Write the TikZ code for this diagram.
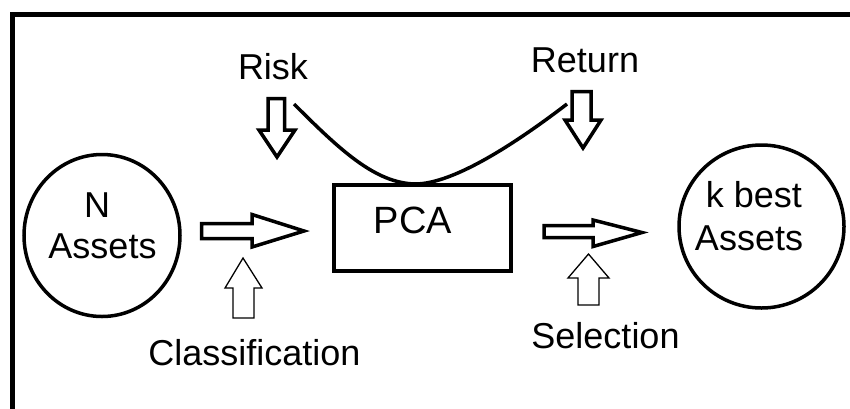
\documentclass[tikz,border=0pt]{standalone}
\usepackage{fontspec}
\setmainfont{Liberation Sans}
\usetikzlibrary{shapes.geometric}
\begin{document}
\begin{tikzpicture}[x=1pt,y=-1pt,
  lbl/.style={font=\fontsize{36}{40}\selectfont, inner sep=0pt, anchor=base},
  heavy/.style={line width=3.5pt, line join=miter},
  light/.style={line width=1.3pt, line join=miter},
  blob/.style={ellipse, draw, line width=3.5pt, inner sep=0pt},
  box/.style={rectangle, draw, line width=3.8pt, inner sep=0pt}]
\useasboundingbox (0,0) rectangle (850,408);
\fill[white] (0,0) rectangle (850,408);
% frame (cut off at right and bottom)
\draw[line width=5pt] (12,412) -- (12,14) -- (854,14);
% main nodes
\node[blob, minimum width=156pt, minimum height=162pt] (src) at (102,235.5) {};
\node[blob, minimum width=165pt, minimum height=163pt] (dst) at (761.5,226.5) {};
\node[box, minimum width=177pt, minimum height=86pt] (pca) at (422.5,228) {};
% labels
\node[lbl] (n1) at (97,217) {N};
\node[lbl] (n2) at (102.5,258) {Assets};
\node[lbl] (k1) at (754,207) {k best};
\node[lbl] (k2) at (749,250) {Assets};
\node[lbl, font=\fontsize{38}{42}\selectfont] (pcat) at (413,233) {PCA};
\node[lbl] (risk) at (273,79) {Risk};
\node[lbl] (ret) at (585,72) {Return};
\node[lbl] (cls) at (254.5,365) {Classification};
\node[lbl] (sel) at (605.5,348) {Selection};
% block arrows
\draw[heavy] (201.5,223.5) -- (252,223.5) -- (252,214.5) -- (304,231) -- (252,247) -- (252,238.5) -- (201.5,238.5) -- cycle;
\draw[heavy] (544,225.5) -- (593,225.5) -- (593,220) -- (642,232.5) -- (593,246.5) -- (593,237.5) -- (544,237.5) -- cycle;
\draw[heavy] (268,98.5) -- (284.5,98.5) -- (284.5,130) -- (295,130) -- (277,157) -- (259,130) -- (268,130) -- cycle;
\draw[heavy] (572,91.5) -- (591,91.5) -- (591,120) -- (601,120) -- (583,148) -- (565,120) -- (572,120) -- cycle;
\draw[light] (243,258) -- (262,288) -- (254,288) -- (254,318) -- (233,318) -- (233,288) -- (225,288) -- cycle;
\draw[light] (588.5,254) -- (609,278) -- (599,278) -- (599,305) -- (578,305) -- (578,278) -- (568,278) -- cycle;
% curve touching PCA box
\coordinate (c1) at (294,104);
\coordinate (c2) at (567,104);
\coordinate (cb) at (415,184);
\draw[line width=3.5pt] (c1) .. controls (340,150) and (375,183) .. (cb) .. controls (455,184) and (520,140) .. (c2);
\end{tikzpicture}
\end{document}
